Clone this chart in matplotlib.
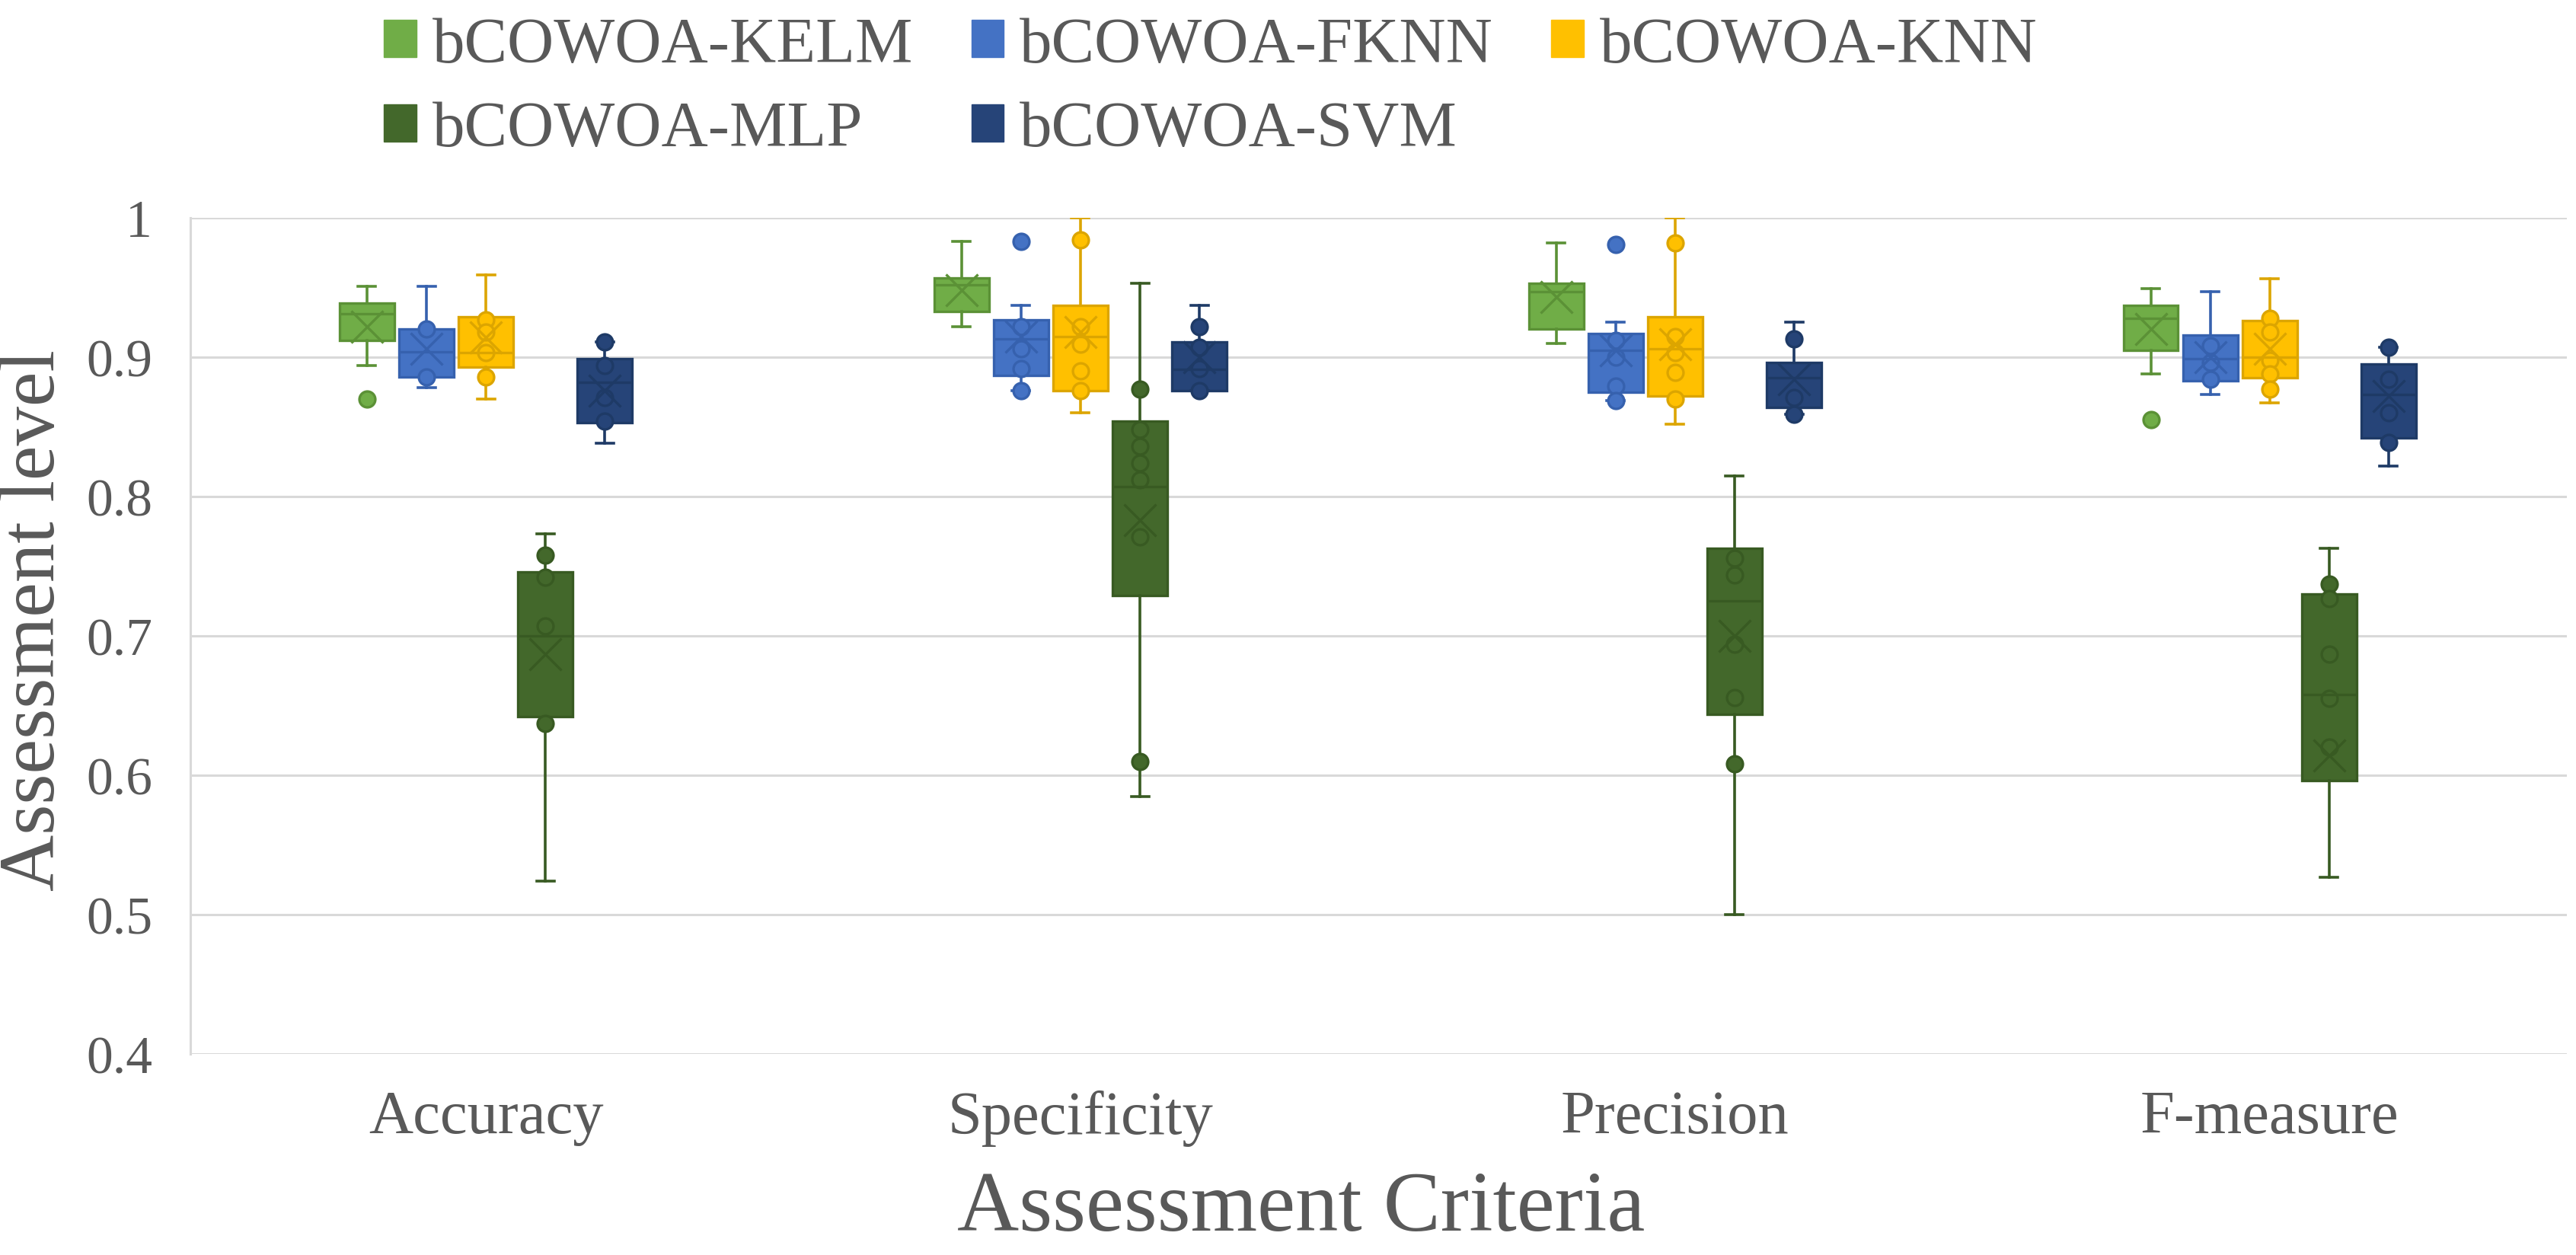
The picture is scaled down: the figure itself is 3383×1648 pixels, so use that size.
import matplotlib
matplotlib.use("Agg")
import matplotlib.pyplot as plt
from matplotlib.patches import Patch

plt.rcParams['font.family'] = ['Liberation Serif', 'DejaVu Serif']

criteria = ["Accuracy", "Specificity", "Precision", "F-measure"]
series = ["bCOWOA-KELM", "bCOWOA-FKNN", "bCOWOA-KNN", "bCOWOA-MLP", "bCOWOA-SVM"]

# per-series box statistics, one value per criterion
whislo = {
    "bCOWOA-KELM": [0.894, 0.922, 0.910, 0.888],
    "bCOWOA-FKNN": [0.878, 0.876, 0.869, 0.873],
    "bCOWOA-KNN":  [0.870, 0.860, 0.852, 0.867],
    "bCOWOA-MLP":  [0.524, 0.585, 0.500, 0.527],
    "bCOWOA-SVM":  [0.838, 0.876, 0.859, 0.822],
}
q1 = {
    "bCOWOA-KELM": [0.912, 0.933, 0.920, 0.905],
    "bCOWOA-FKNN": [0.886, 0.887, 0.875, 0.883],
    "bCOWOA-KNN":  [0.893, 0.876, 0.872, 0.885],
    "bCOWOA-MLP":  [0.642, 0.729, 0.644, 0.596],
    "bCOWOA-SVM":  [0.853, 0.876, 0.864, 0.842],
}
median = {
    "bCOWOA-KELM": [0.931, 0.952, 0.947, 0.928],
    "bCOWOA-FKNN": [0.904, 0.913, 0.905, 0.899],
    "bCOWOA-KNN":  [0.903, 0.915, 0.906, 0.900],
    "bCOWOA-MLP":  [0.700, 0.807, 0.725, 0.658],
    "bCOWOA-SVM":  [0.882, 0.891, 0.885, 0.873],
}
q3 = {
    "bCOWOA-KELM": [0.939, 0.957, 0.953, 0.937],
    "bCOWOA-FKNN": [0.920, 0.927, 0.917, 0.916],
    "bCOWOA-KNN":  [0.929, 0.937, 0.929, 0.926],
    "bCOWOA-MLP":  [0.746, 0.854, 0.763, 0.730],
    "bCOWOA-SVM":  [0.899, 0.911, 0.896, 0.895],
}
whishi = {
    "bCOWOA-KELM": [0.951, 0.983, 0.982, 0.949],
    "bCOWOA-FKNN": [0.951, 0.937, 0.925, 0.947],
    "bCOWOA-KNN":  [0.959, 1.000, 1.000, 0.956],
    "bCOWOA-MLP":  [0.773, 0.953, 0.815, 0.763],
    "bCOWOA-SVM":  [0.911, 0.937, 0.925, 0.907],
}
mean = {
    "bCOWOA-KELM": [0.922, 0.948, 0.943, 0.920],
    "bCOWOA-FKNN": [0.906, 0.915, 0.905, 0.900],
    "bCOWOA-KNN":  [0.914, 0.918, 0.909, 0.906],
    "bCOWOA-MLP":  [0.687, 0.783, 0.700, 0.614],
    "bCOWOA-SVM":  [0.876, 0.900, 0.884, 0.872],
}
# shown data points (inner points and outliers)
points = {
    "bCOWOA-KELM": [[0.870], [], [], [0.855]],
    "bCOWOA-FKNN": [[0.920, 0.886],
                    [0.983, 0.922, 0.906, 0.892, 0.876],
                    [0.981, 0.912, 0.900, 0.879, 0.869],
                    [0.908, 0.896, 0.884]],
    "bCOWOA-KNN":  [[0.927, 0.918, 0.903, 0.886],
                    [0.984, 0.922, 0.909, 0.890, 0.876],
                    [0.982, 0.915, 0.903, 0.889, 0.870],
                    [0.928, 0.918, 0.898, 0.888, 0.877]],
    "bCOWOA-MLP":  [[0.758, 0.742, 0.707, 0.637],
                    [0.877, 0.848, 0.836, 0.824, 0.812, 0.771, 0.610],
                    [0.756, 0.744, 0.694, 0.656, 0.608],
                    [0.737, 0.727, 0.687, 0.655, 0.620]],
    "bCOWOA-SVM":  [[0.911, 0.894, 0.871, 0.854],
                    [0.922, 0.907, 0.892, 0.876],
                    [0.913, 0.871, 0.859],
                    [0.907, 0.884, 0.860, 0.839]],
}

fill_colors = ["#70AD47", "#4472C4", "#FFC000", "#43682B", "#264478"]
edge_colors = ["#5B9136", "#3661AE", "#DCA500", "#385A22", "#1E3A66"]

fig = plt.figure(figsize=(33.83, 16.49), dpi=100)
ax = fig.add_axes([0.0739, 0.160, 0.9226, 0.666])

step = 0.1
bw = 0.092
for j, s in enumerate(series):
    stats = []
    for i, c in enumerate(criteria):
        stats.append(dict(med=median[s][i], q1=q1[s][i], q3=q3[s][i],
                          whislo=whislo[s][i], whishi=whishi[s][i],
                          mean=mean[s][i], fliers=points[s][i]))
    pos = [i + (j - 2) * step for i in range(len(criteria))]
    ec = edge_colors[j]
    fc = fill_colors[j]
    ax.bxp(stats, positions=pos, widths=bw, patch_artist=True,
           showmeans=True, showfliers=True,
           boxprops=dict(facecolor=fc, edgecolor=ec, linewidth=2.4),
           medianprops=dict(color=ec, linewidth=2.4),
           whiskerprops=dict(color=ec, linewidth=2.6),
           capprops=dict(color=ec, linewidth=2.6),
           capwidths=bw * 0.32,
           meanprops=dict(marker='x', markersize=30, markeredgecolor=ec,
                          markeredgewidth=2.4, linestyle='none'),
           flierprops=dict(marker='o', markersize=15, markerfacecolor=fc,
                           markeredgecolor=ec, markeredgewidth=2.4,
                           linestyle='none'),
           manage_ticks=False, zorder=3)

ax.set_ylim(0.4, 1.0)
ax.set_xlim(-0.497, 3.5)
yt = [0.4, 0.5, 0.6, 0.7, 0.8, 0.9, 1.0]
ax.set_yticks(yt)
ax.set_yticklabels(["0.4", "0.5", "0.6", "0.7", "0.8", "0.9", "1"])
ax.set_xticks(range(len(criteria)))
ax.set_xticklabels(criteria)
ax.tick_params(axis='x', length=0, labelsize=58, labelcolor="#595959", pad=34)
ax.tick_params(axis='y', length=0, labelsize=50, labelcolor="#595959", pad=36)
ax.yaxis.grid(True, color="#D9D9D9", linewidth=2.2, zorder=0)
ax.set_axisbelow(True)
for sp in ["top", "right", "bottom"]:
    ax.spines[sp].set_visible(False)
ax.spines["left"].set_color("#D9D9D9")
ax.spines["left"].set_linewidth(2.2)

fig.text(0.505, 0.02, "Assessment Criteria", ha='center', va='baseline',
         fontsize=81, color="#595959")
fig.text(0.0135, 0.506, "Assessment level", ha='center', va='center',
         rotation=90, fontsize=74, color="#595959")

handles = [Patch(facecolor=fill_colors[k], edgecolor=fill_colors[k]) for k in range(5)]
order = [0, 3, 1, 4, 2]
leg = fig.legend([handles[k] for k in order], [series[k] for k in order],
                 ncol=3, loc='upper center', bbox_to_anchor=(0.47, 1.012),
                 frameon=False, fontsize=61, handlelength=0.5, handleheight=0.5,
                 handletextpad=0.25, columnspacing=0.9, labelspacing=0.4,
                 borderpad=0.0)
for t in leg.get_texts():
    t.set_color("#595959")

fig.savefig("out.png", dpi=100, facecolor="white")
